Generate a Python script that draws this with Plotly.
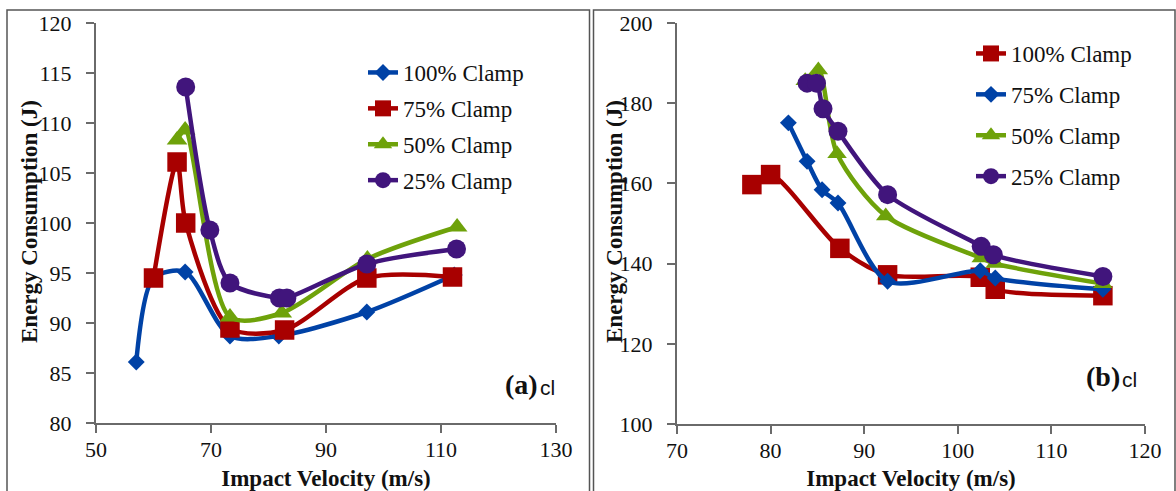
import plotly.graph_objects as go

# ---- Panel (a): energy consumption vs impact velocity ----
a_names = ["100% Clamp", "75% Clamp", "50% Clamp", "25% Clamp"]
a_x_100 = [57.0, 60.0, 65.5, 73.3, 81.8, 97.1, 112.3]
a_y_100 = [86.1, 94.5, 95.1, 88.7, 88.7, 91.1, 94.8]
a_x_75 = [60.0, 64.1, 65.6, 73.3, 82.8, 97.1, 112.0]
a_y_75 = [94.5, 106.1, 100.0, 89.5, 89.3, 94.5, 94.6]
a_x_50 = [64.1, 65.5, 73.3, 82.3, 97.2, 112.8]
a_y_50 = [108.3, 109.3, 90.6, 91.0, 96.4, 99.6]
a_x_25 = [65.6, 69.8, 73.3, 81.9, 83.2, 97.1, 112.7]
a_y_25 = [113.6, 99.3, 94.0, 92.5, 92.5, 95.9, 97.4]

# ---- Panel (b) ----
b_names = ["100% Clamp", "75% Clamp", "50% Clamp", "25% Clamp"]
b_x_100 = [78.0, 80.0, 87.4, 92.5, 102.4, 104.0, 115.5]
b_y_100 = [159.7, 162.2, 143.8, 137.2, 136.6, 133.6, 132.0]
b_x_75 = [81.9, 83.9, 85.5, 87.2, 92.5, 102.4, 104.0, 115.5]
b_y_75 = [175.1, 165.5, 158.4, 155.1, 135.6, 138.2, 136.4, 133.6]
b_x_50 = [83.7, 85.1, 87.1, 92.3, 102.5, 104.0, 115.5]
b_y_50 = [185.6, 188.3, 167.4, 151.9, 141.4, 140.0, 135.0]
b_x_25 = [83.9, 84.9, 85.6, 87.2, 92.5, 102.5, 103.8, 115.5]
b_y_25 = [185.0, 185.0, 178.6, 173.0, 157.2, 144.3, 142.2, 136.8]

x_title = "Impact Velocity (m/s)"
y_title = "Energy Consumption (J)"

BLUE = "#0042A6"
RED = "#A80000"
GREEN = "#6EA20A"
PURPLE = "#41157C"

W, H = 1176, 491
SERIF = "Liberation Serif"
SANS = "Liberation Sans"
AXCOL = "#6a6a6a"
INK = "#111"


def px_x(p):
    return p / W


def px_y(p):
    return 1 - p / H


fig = go.Figure()

a_series = [
    (a_x_100, a_y_100, BLUE, "diamond", 13),
    (a_x_75, a_y_75, RED, "square", 19.5),
    (a_x_50, a_y_50, GREEN, "triangle-up", 18),
    (a_x_25, a_y_25, PURPLE, "circle", 19),
]
for i, (xs, ys, col, sym, sz) in enumerate(a_series):
    fig.add_trace(go.Scatter(
        x=xs, y=ys, name=a_names[i], mode="lines+markers",
        line=dict(color=col, width=4.5, shape="spline", smoothing=0.8),
        marker=dict(color=col, symbol=sym, size=sz, line=dict(width=0)),
        xaxis="x", yaxis="y", legend="legend", legendgroup="a%d" % i,
    ))

b_series = [
    (b_x_100, b_y_100, RED, "square", 19.5),
    (b_x_75, b_y_75, BLUE, "diamond", 13),
    (b_x_50, b_y_50, GREEN, "triangle-up", 17),
    (b_x_25, b_y_25, PURPLE, "circle", 19),
]
for i, (xs, ys, col, sym, sz) in enumerate(b_series):
    fig.add_trace(go.Scatter(
        x=xs, y=ys, name=b_names[i], mode="lines+markers",
        line=dict(color=col, width=4.5, shape="spline", smoothing=0.8),
        marker=dict(color=col, symbol=sym, size=sz, line=dict(width=0)),
        xaxis="x2", yaxis="y2", legend="legend2", legendgroup="b%d" % i,
    ))

axis_common = dict(
    showgrid=False, zeroline=False, showline=True, linecolor=AXCOL, linewidth=2,
    ticks="outside", ticklen=8, tickwidth=1.5, tickcolor=AXCOL,
    tickfont=dict(family=SERIF, size=22, color=INK), automargin=False,
)
title_font = dict(family=SERIF, size=23, color=INK)

fig.update_layout(
    width=W, height=H,
    margin=dict(l=0, r=0, t=0, b=0),
    paper_bgcolor="white", plot_bgcolor="white",
    showlegend=True,
    xaxis=dict(axis_common, domain=[px_x(96), px_x(556)], range=[50, 130],
               tick0=50, dtick=20, anchor="y", ticklabelstandoff=-2,
               title=dict(text="<b>%s</b>" % x_title, font=title_font, standoff=14)),
    yaxis=dict(axis_common, domain=[px_y(423), px_y(23)], range=[80, 120],
               tick0=80, dtick=5, anchor="x", ticklabelstandoff=10),
    xaxis2=dict(axis_common, domain=[px_x(677), px_x(1145)], range=[70, 120],
                tick0=70, dtick=10, anchor="y2", ticklabelstandoff=-2,
                title=dict(text="<b>%s</b>" % x_title, font=title_font, standoff=14)),
    yaxis2=dict(axis_common, domain=[px_y(424), px_y(23)], range=[100, 200],
                tick0=100, dtick=20, anchor="x2", ticklabelstandoff=10),
    legend=dict(x=px_x(363), y=px_y(51), xanchor="left", yanchor="top",
                font=dict(family=SERIF, size=23, color=INK),
                bgcolor="rgba(0,0,0,0)", tracegroupgap=3, traceorder="grouped"),
    legend2=dict(x=px_x(971), y=px_y(32), xanchor="left", yanchor="top",
                 font=dict(family=SERIF, size=23, color=INK),
                 bgcolor="rgba(0,0,0,0)", tracegroupgap=8, traceorder="grouped"),
    shapes=[
        dict(type="rect", xref="paper", yref="paper",
             x0=px_x(7), x1=px_x(589.5), y0=-0.05, y1=px_y(10),
             line=dict(color="#555", width=1.5)),
        dict(type="rect", xref="paper", yref="paper",
             x0=px_x(593.5), x1=px_x(1175), y0=-0.05, y1=px_y(10),
             line=dict(color="#555", width=1.5)),
    ],
    annotations=[
        # vertical axis titles
        dict(text="<b>%s</b>" % y_title, xref="paper", yref="paper",
             x=px_x(29), y=px_y(222), xanchor="center", yanchor="middle",
             textangle=-90, showarrow=False, font=title_font),
        dict(text="<b>%s</b>" % y_title, xref="paper", yref="paper",
             x=px_x(614), y=px_y(222), xanchor="center", yanchor="middle",
             textangle=-90, showarrow=False, font=title_font),
        # panel labels
        dict(text="<b>(a)</b>", xref="paper", yref="paper", x=px_x(540), y=px_y(384),
             xanchor="right", yanchor="middle", showarrow=False,
             font=dict(family=SERIF, size=28, color=INK)),
        dict(text="cl", xref="paper", yref="paper", x=px_x(538), y=px_y(387),
             xanchor="left", yanchor="middle", showarrow=False,
             font=dict(family=SANS, size=21, color=INK)),
        dict(text="<b>(b)</b>", xref="paper", yref="paper", x=px_x(1122), y=px_y(376),
             xanchor="right", yanchor="middle", showarrow=False,
             font=dict(family=SERIF, size=28, color=INK)),
        dict(text="cl", xref="paper", yref="paper", x=px_x(1120), y=px_y(379),
             xanchor="left", yanchor="middle", showarrow=False,
             font=dict(family=SANS, size=21, color=INK)),
    ],
)

fig.write_html("out.html")
